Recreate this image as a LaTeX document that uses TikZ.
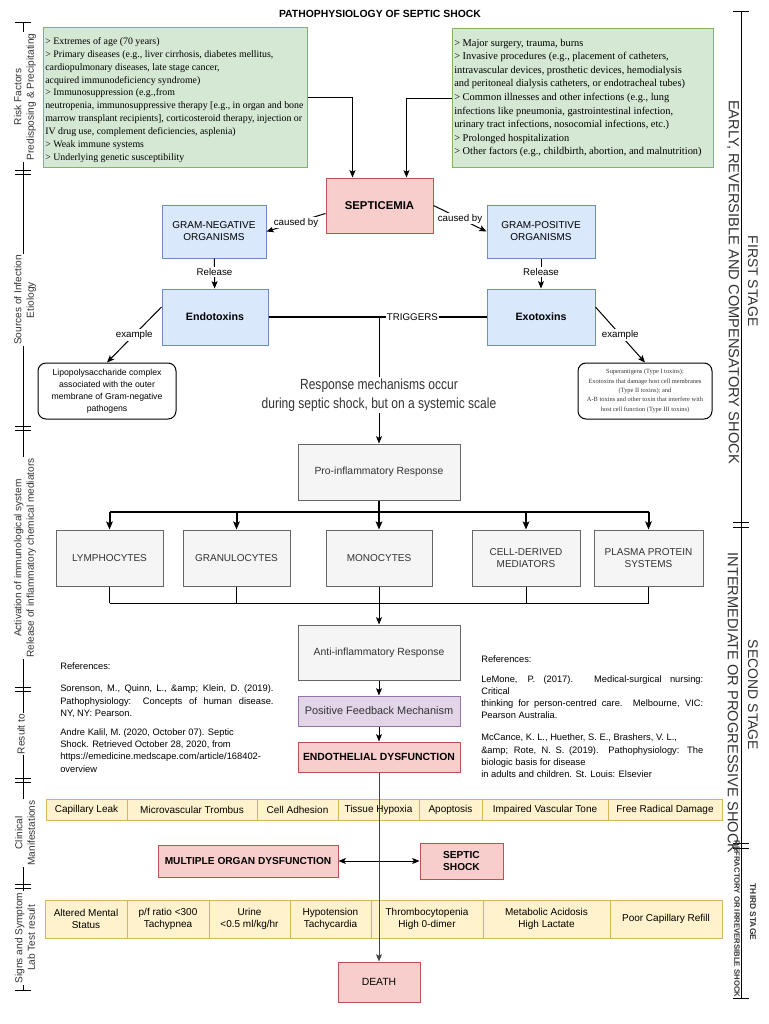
\documentclass[tikz,border=0pt]{standalone}
\usepackage{fontspec}
\setmainfont{Liberation Serif}
\setsansfont{Liberation Sans}
\newfontfamily\condsans[FakeStretch=0.82]{Liberation Sans}
\usetikzlibrary{arrows.meta,calc}

\definecolor{gfill}{HTML}{D5E8D4}
\definecolor{gdraw}{HTML}{82B366}
\definecolor{rfill}{HTML}{F8CECC}
\definecolor{rdraw}{HTML}{B85450}
\definecolor{bfill}{HTML}{DAE8FC}
\definecolor{bdraw}{HTML}{6C8EBF}
\definecolor{kfill}{HTML}{F5F5F5}
\definecolor{kdraw}{HTML}{666666}
\definecolor{pfill}{HTML}{E1D5E7}
\definecolor{pdraw}{HTML}{9673A6}
\definecolor{yfill}{HTML}{FFF2CC}
\definecolor{ydraw}{HTML}{D6B656}
\definecolor{txt}{HTML}{333333}
\definecolor{lnk}{HTML}{444444}

\newcommand\fsz[2]{\fontsize{#1pt}{#2pt}\selectfont}
\newcommand\pbox[7]{\node[#6, minimum width={(#4-#2)*0.75pt}, minimum height={(#5-#3)*0.75pt}] (#1) at ({(#2+#4)/2},{(#3+#5)/2}) {#7};}

\begin{document}
\begin{tikzpicture}[x=0.75pt,y=-0.75pt,font=\sffamily,
  box/.style={draw, line width=0.75pt, inner sep=1pt, align=center, text=black, font=\sffamily\fsz{7.5}{9}},
  greenbox/.style={box, fill=gfill, draw=gdraw},
  redbox/.style={box, fill=rfill, draw=rdraw, font=\sffamily\bfseries\fsz{7.6}{9.5}},
  bluebox/.style={box, fill=bfill, draw=bdraw},
  graybox/.style={box, fill=kfill, draw=kdraw, text=txt},
  purplebox/.style={box, fill=pfill, draw=pdraw, text=txt},
  yellowbox/.style={box, fill=yfill, draw=ydraw},
  roundbox/.style={box, fill=white, draw=black, rounded corners=6pt},
  arr/.style={-{Stealth[length=5.5pt,width=4.5pt,inset=1.2pt]}, line width=0.75pt},
  tharr/.style={-{Stealth[length=6pt,width=5pt,inset=1.2pt]}, line width=1.5pt},
  lbl/.style={fill=white, inner sep=1pt, font=\sffamily\fsz{7.3}{9}},
  sidelbl/.style={fill=white, inner sep=1pt, align=center, rotate=90, text=txt, font=\sffamily\fsz{7.6}{9.4}},
  stagelbl/.style={rotate=-90, text=txt, inner sep=0pt},
  gtext/.style={align=left, inner sep=0pt, text=black, anchor=west},
  reftext/.style={align=left, inner sep=0pt, anchor=north west, font=\sffamily\fsz{7}{9.2}, text=black},
]
\useasboundingbox (0,0) rectangle (768,1024);
\fill[white] (0,0) rectangle (768,1024);

% title
\node[font=\sffamily\bfseries\fsz{7.8}{9}] (title) at (380,14) {PATHOPHYSIOLOGY OF SEPTIC SHOCK};

% ---------------- left side bar
\draw[line width=0.75pt] (23,23) -- (23,990);
\foreach \yy in {23,170,174,426,430,687,691,778,782,884,888,990}
  \draw[line width=0.75pt] (15,\yy) -- (31,\yy);
\node[sidelbl] (sl1) at (25,97) {Risk Factors\\Predisposing \& Precipitating};
\node[sidelbl] (sl2) at (25,300) {Sources of Infection\\Etiology};
\node[sidelbl] (sl3) at (25,558) {Activation of immunological system\\Release of inflammatory chemical mediators};
\node[sidelbl] (sl4) at (21,734) {Result to};
\node[sidelbl] (sl5) at (25,833) {Clinical\\Manifestations};
\node[sidelbl] (sl6) at (25,938) {Signs and Symptom\\Lab Test result};

% ---------------- right side bar
\draw[line width=0.75pt] (741,12) -- (741,998);
\foreach \yy in {12,522,527,843,848,998}
  \draw[line width=0.75pt] (733,\yy) -- (749,\yy);
\node[stagelbl, font=\sffamily\fsz{10.5}{12}] (st1a) at (753,281) {FIRST STAGE};
\node[stagelbl, font=\sffamily\fsz{11}{12}] (st1b) at (733,282) {EARLY, REVERSIBLE AND COMPENSATORY SHOCK};
\node[stagelbl, font=\sffamily\fsz{10.5}{12}] (st2a) at (753,695) {SECOND STAGE};
\node[stagelbl, font=\sffamily\fsz{11}{12}] (st2b) at (733,703) {INTERMEDIATE OR PROGRESSIVE SHOCK};
\node[stagelbl, font=\sffamily\bfseries\fsz{6.3}{7}] (st3a) at (753,912) {THIRD STAGE};
\node[stagelbl, font=\sffamily\bfseries\fsz{5.8}{7}] (st3b) at (737,919) {REFRACTORY OR IRREVERSIBLE SHOCK};

% ---------------- risk factor boxes
\pbox{rf1}{43}{28}{307}{167}{greenbox}{}
\node[gtext, font=\rmfamily\fsz{7.4}{9.7}] (rf1t) at (45,100) {%
> Extremes of age (70 years)\\
> Primary diseases (e.g., liver cirrhosis, diabetes mellitus,\\
cardiopulmonary diseases, late stage cancer,\\
acquired immunodeficiency syndrome)\\
> Immunosuppression (e.g.,from\\
neutropenia, immunosuppressive therapy [e.g., in organ and bone\\
marrow transplant recipients], corticosteroid therapy, injection or\\
IV drug use, complement deficiencies, asplenia)\\
> Weak immune systems\\
> Underlying genetic susceptibility};

\pbox{rf2}{452}{29}{713}{167}{greenbox}{}
\node[gtext, font=\rmfamily\fsz{7.8}{10.2}] (rf2t) at (454,98) {%
> Major surgery, trauma, burns\\
> Invasive procedures (e.g., placement of catheters,\\
intravascular devices, prosthetic devices, hemodialysis\\
and peritoneal dialysis catheters, or endotracheal tubes)\\
> Common illnesses and other infections (e.g., lung\\
infections like pneumonia, gastrointestinal infection,\\
urinary tract infections, nosocomial infections, etc.)\\
> Prolonged hospitalization\\
> Other factors (e.g., childbirth, abortion, and malnutrition)};

% ---------------- etiology
\pbox{sep}{326}{178}{433}{233}{redbox, font=\sffamily\bfseries\fsz{8.5}{10}}{SEPTICEMIA}
\pbox{gneg}{162}{205}{266}{258}{bluebox}{GRAM-NEGATIVE\\ORGANISMS}
\pbox{gpos}{487}{205}{595}{258}{bluebox}{GRAM-POSITIVE\\ORGANISMS}
\pbox{endo}{162}{289}{268}{345}{bluebox, font=\sffamily\bfseries\fsz{8}{9}}{Endotoxins}
\pbox{exo}{487}{289}{595}{345}{bluebox, font=\sffamily\bfseries\fsz{8}{9}}{Exotoxins}
\pbox{lipo}{38}{363}{176}{419}{roundbox, font=\sffamily\fsz{6.5}{9}}{Lipopolysaccharide complex\\associated with the outer\\membrane of Gram-negative\\pathogens}
\pbox{supr}{578}{363}{712}{419}{roundbox, text=txt, font=\rmfamily\fsz{4.8}{7}}{Superantigens (Type I toxins);\\Exotoxins that damage host cell membranes\\(Type II toxins); and\\A-B toxins and other toxin that interfere with\\host cell function (Type III toxins)}

\draw[arr] (rf1.east) -| ($(sep.north)+(-27,0)$);
\draw[arr] (rf2.west) -| ($(sep.north)+(27,0)$);
\draw[arr] ($(sep.west)+(0,8)$) -- node[lbl] {caused by} (gneg.east);
\draw[arr] (sep.east) -- node[lbl] {caused by} (gpos.west);
\draw[arr] (gneg) -- node[lbl, pos=0.45] {Release} (endo);
\draw[arr] (gpos) -- node[lbl, pos=0.45] {Release} (exo);
\draw[arr] ($(endo.west)+(0,-10)$) -- node[lbl] {example} (lipo.north);
\draw[arr] ($(exo.east)+(0,-10)$) -- node[lbl] {example} (supr.north);

% ---------------- immune response
\pbox{pro}{298}{444}{460}{500}{graybox, font=\sffamily\fsz{7.8}{9}}{Pro-inflammatory Response}
\coordinate (trig) at (pro.north |- endo.east);
\draw[line width=1.5pt] (endo.east) -- node[lbl, pos=0.66] {TRIGGERS} (exo.west);
\draw[arr] (trig) -- (pro.north);
\node[fill=white, inner sep=1pt, align=center, text=txt, font=\condsans\fsz{11}{14.3}] (resp) at (379,395) {Response mechanisms occur\\during septic shock, but on a systemic scale};

\pbox{lym}{56}{530}{163}{586}{graybox}{LYMPHOCYTES}
\pbox{gra}{183}{530}{290}{586}{graybox}{GRANULOCYTES}
\pbox{mon}{326}{530}{432}{586}{graybox}{MONOCYTES}
\pbox{cel}{472}{530}{580}{586}{graybox}{CELL-DERIVED\\MEDIATORS}
\pbox{pla}{594}{530}{703}{586}{graybox}{PLASMA PROTEIN\\SYSTEMS}

\coordinate (busA) at (379,512);
\draw[line width=1.5pt] (pro.south) -- (busA);
\draw[line width=1.5pt] (lym.north |- busA) -- (pla.north |- busA);
\foreach \c in {lym,gra,mon,cel,pla}
  \draw[tharr] (\c.north |- busA) -- (\c.north);

\pbox{anti}{298}{625}{460}{680}{graybox, font=\sffamily\fsz{7.8}{9}}{Anti-inflammatory Response}
\coordinate (busB) at (379,603);
\foreach \c in {lym,gra,mon,cel,pla}
  \draw[line width=0.75pt] (\c.south) -- (\c.south |- busB);
\draw[line width=0.75pt] (lym.south |- busB) -- (pla.south |- busB);
\draw[arr] (busB) -- (anti.north);

\pbox{pfm}{298}{696}{460}{726}{purplebox, font=\sffamily\fsz{8.2}{9}}{Positive Feedback Mechanism}
\pbox{endf}{298}{742}{460}{772}{redbox, font=\sffamily\bfseries\fsz{7.8}{9}}{ENDOTHELIAL DYSFUNCTION}
\draw[arr] (anti) -- (pfm);
\draw[arr] (pfm) -- (endf);

% ---------------- references
\node[reftext] (refL) at (60,662) {References:\\[8pt]
\hbox to 160pt{Sorenson, M., Quinn, L., \&amp; Klein, D. (2019).}\\
\hbox to 160pt{Pathophysiology: Concepts of human disease.}\\
NY, NY: Pearson.\\[5pt]
Andre Kalil, M. (2020, October 07). Septic\\
Shock. Retrieved October 28, 2020, from\\
https://emedicine.medscape.com/article/168402-\\
overview};
\node[reftext] (refR) at (481,655) {References:\\[5.8pt]
\hbox to 166.5pt{LeMone, P. (2017). Medical-surgical nursing:}\\
Critical\\
\hbox to 166.5pt{thinking for person-centred care. Melbourne, VIC:}\\
Pearson Australia.\\[7.3pt]
McCance, K. L., Huether, S. E., Brashers, V. L.,\\
\hbox to 166.5pt{\&amp; Rote, N. S. (2019). Pathophysiology: The}\\
biologic basis for disease\\
in adults and children. St. Louis: Elsevier};

% ---------------- clinical manifestations
\pbox{c1}{46}{799}{127}{820}{yellowbox}{Capillary Leak}
\pbox{c2}{127}{799}{257}{820}{yellowbox}{Microvascular Trombus}
\pbox{c3}{257}{799}{338}{820}{yellowbox}{Cell Adhesion}
\pbox{c4}{338}{799}{419}{820}{yellowbox}{Tissue Hypoxia}
\pbox{c5}{419}{799}{482}{820}{yellowbox}{Apoptosis}
\pbox{c6}{482}{799}{608}{820}{yellowbox}{Impaired Vascular Tone}
\pbox{c7}{608}{799}{722}{820}{yellowbox}{Free Radical Damage}

\pbox{mod}{158}{845}{338}{877}{redbox}{MULTIPLE ORGAN DYSFUNCTION}
\pbox{ssh}{420}{843}{503}{879}{redbox}{SEPTIC\\SHOCK}
\draw[{Stealth[length=5.5pt,width=4.5pt,inset=1.2pt]}-{Stealth[length=5.5pt,width=4.5pt,inset=1.2pt]}, line width=0.75pt] (mod.east) -- (ssh.west);

% ---------------- signs and symptoms
\pbox{s1}{45}{900}{127}{938}{yellowbox}{Altered Mental\\Status}
\pbox{s2}{127}{900}{209}{938}{yellowbox}{p/f ratio <300\\Tachypnea}
\pbox{s3}{209}{900}{290}{938}{yellowbox}{Urine\\<0.5 ml/kg/hr}
\pbox{s4}{290}{900}{371}{938}{yellowbox}{Hypotension\\Tachycardia}
\pbox{s5}{371}{900}{483}{938}{yellowbox}{Thrombocytopenia\\High 0-dimer}
\pbox{s6}{483}{900}{610}{938}{yellowbox}{Metabolic Acidosis\\High Lactate}
\pbox{s7}{610}{900}{722}{938}{yellowbox}{Poor Capillary Refill}

\pbox{death}{338}{962}{420}{1002}{redbox, font=\sffamily\fsz{7.8}{9}}{DEATH}
\draw[arr, draw=lnk] (endf.south) -- (endf.south |- death.north);
\end{tikzpicture}
\end{document}
